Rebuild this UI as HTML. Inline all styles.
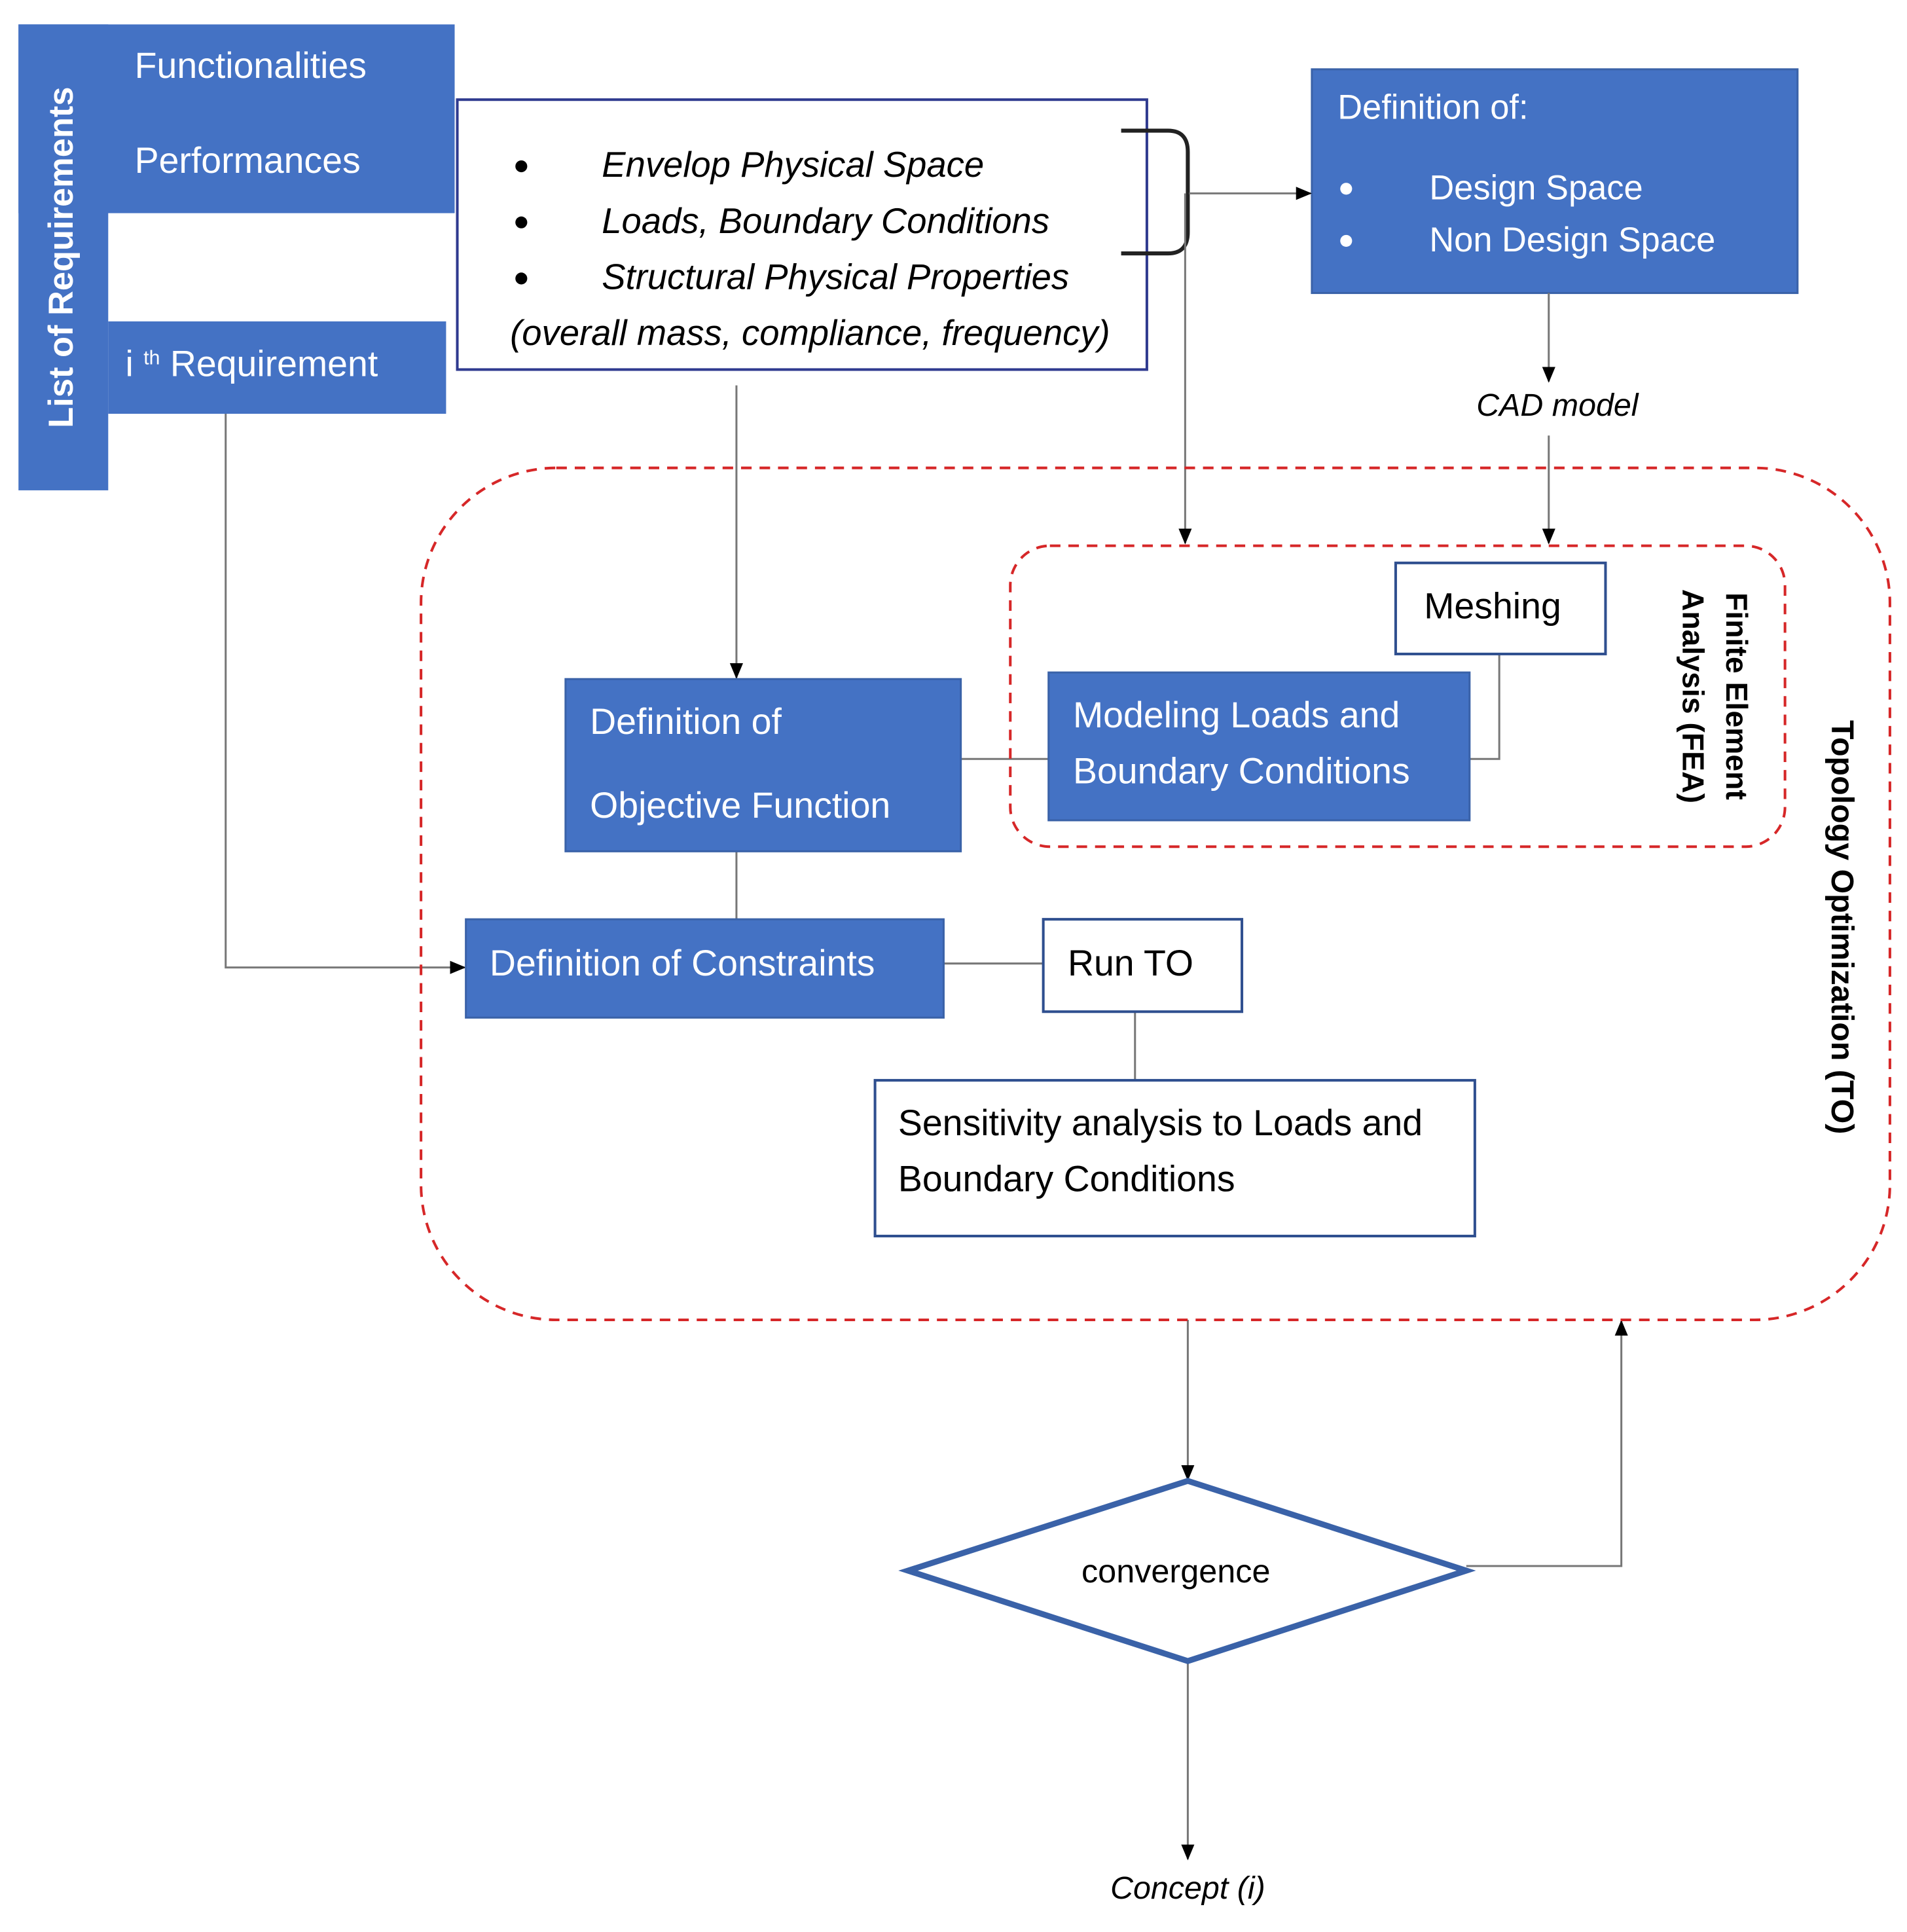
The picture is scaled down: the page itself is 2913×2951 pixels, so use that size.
<!DOCTYPE html>
<html><head><meta charset="utf-8"><style>body{margin:0;background:#fff}svg{display:block}</style></head><body>
<svg width="2913" height="2951" viewBox="0 0 2913 2951" xmlns="http://www.w3.org/2000/svg" font-family="Liberation Sans, sans-serif">
<defs>
<marker id="b" markerWidth="24" markerHeight="24" refX="22" refY="12" orient="auto" markerUnits="userSpaceOnUse" viewBox="0 0 24 24"><path d="M0,2 L24,12 L0,22z" fill="#000"/></marker></defs>
<g transform="scale(1.008)">
<rect x="28" y="37" width="136" height="706" fill="#4472C4"/>
<rect x="28" y="37" width="661" height="286" fill="#4472C4"/>
<rect x="164" y="487" width="512" height="140" fill="#4472C4"/>
<text transform="translate(110,390) rotate(-90)" text-anchor="middle" fill="#fff" font-size="52" font-weight="bold">List of Requirements</text>
<text x="204" y="118" fill="#fff" font-size="55">Functionalities</text>
<text x="204" y="262" fill="#fff" font-size="55">Performances</text>
<text x="190" y="570" fill="#fff" font-size="55">i <tspan font-size="30" dy="-18">th</tspan><tspan dy="18"> Requirement</tspan></text>
<rect x="693" y="151" width="1045" height="409" fill="#fff" stroke="#2F3A8F" stroke-width="4"/>
<g font-size="54" font-style="italic" fill="#000">
<circle cx="790" cy="252" r="9"/><circle cx="790" cy="337" r="9"/><circle cx="790" cy="422" r="9"/>
<text x="912" y="268">Envelop Physical Space</text>
<text x="912" y="353">Loads, Boundary Conditions</text>
<text x="912" y="438">Structural Physical Properties</text>
<text x="773" y="523">(overall mass, compliance, frequency)</text>
</g>
<path d="M1699,198 H1770 Q1800,198 1800,230 V352 Q1800,384 1770,384 H1699" fill="none" stroke="#222" stroke-width="6"/>
<rect x="1988" y="105" width="736" height="339" fill="#4472C4" stroke="#3A62A8" stroke-width="3"/>
<text x="2027" y="180" fill="#fff" font-size="52">Definition of:</text>
<circle cx="2040" cy="286" r="9" fill="#fff"/><circle cx="2040" cy="365" r="9" fill="#fff"/>
<text x="2166" y="302" fill="#fff" font-size="52">Design Space</text>
<text x="2166" y="381" fill="#fff" font-size="52">Non Design Space</text>
<g stroke="#777" stroke-width="3" fill="none">
<line x1="1802" y1="293" x2="1986" y2="293" marker-end="url(#b)"/>
<line x1="1796" y1="293" x2="1796" y2="823" marker-end="url(#b)"/>
<line x1="2347" y1="444" x2="2347" y2="578" marker-end="url(#b)"/>
<line x1="2347" y1="660" x2="2347" y2="823" marker-end="url(#b)"/>
<line x1="1116" y1="584" x2="1116" y2="1027" marker-end="url(#b)"/>
<line x1="1456" y1="1150" x2="1589" y2="1150"/>
<polyline points="2272,991 2272,1150 2227,1150"/>
<line x1="1116" y1="1290" x2="1116" y2="1393"/>
<polyline points="342,627 342,1466 704,1466" marker-end="url(#b)"/>
<line x1="1430" y1="1460" x2="1581" y2="1460"/>
<line x1="1720" y1="1533" x2="1720" y2="1637"/>
<line x1="1800" y1="2000" x2="1800" y2="2242" marker-end="url(#b)"/>
<polyline points="2222,2373 2457,2373 2457,2002" marker-end="url(#b)"/>
<line x1="1800" y1="2517" x2="1800" y2="2817" marker-end="url(#b)"/>
</g>
<text x="2360" y="630" text-anchor="middle" font-size="48" font-style="italic">CAD model</text>
<rect x="638" y="709" width="2226" height="1291" rx="205" fill="none" stroke="#D62728" stroke-width="4" stroke-dasharray="16,12"/>
<rect x="1531" y="827" width="1174" height="456" rx="60" fill="none" stroke="#D62728" stroke-width="4" stroke-dasharray="16,12"/>
<rect x="2115" y="853" width="318" height="138" fill="#fff" stroke="#2F4F8F" stroke-width="4"/>
<text x="2158" y="937" font-size="55">Meshing</text>
<rect x="1589" y="1019" width="638" height="224" fill="#4472C4" stroke="#3A62A8" stroke-width="3"/>
<text x="1626" y="1102" fill="#fff" font-size="55">Modeling Loads and</text>
<text x="1626" y="1187" fill="#fff" font-size="55">Boundary Conditions</text>
<text transform="translate(2616,1055) rotate(90)" text-anchor="middle" font-size="46" font-weight="bold">Finite Element</text>
<text transform="translate(2550,1055) rotate(90)" text-anchor="middle" font-size="46" font-weight="bold">Analysis (FEA)</text>
<text transform="translate(2776,1405) rotate(90)" text-anchor="middle" font-size="48" font-weight="bold">Topology Optimization (TO)</text>
<rect x="857" y="1029" width="599" height="261" fill="#4472C4" stroke="#3A62A8" stroke-width="3"/>
<text x="894" y="1112" fill="#fff" font-size="55">Definition of</text>
<text x="894" y="1239" fill="#fff" font-size="55">Objective Function</text>
<rect x="706" y="1393" width="724" height="149" fill="#4472C4" stroke="#3A62A8" stroke-width="3"/>
<text x="742" y="1478" fill="#fff" font-size="55">Definition of Constraints</text>
<rect x="1581" y="1393" width="301" height="140" fill="#fff" stroke="#2F4F8F" stroke-width="4"/>
<text x="1618" y="1478" font-size="55">Run TO</text>
<rect x="1326" y="1637" width="909" height="236" fill="#fff" stroke="#2F4F8F" stroke-width="4"/>
<text x="1361" y="1720" font-size="55">Sensitivity analysis to Loads and</text>
<text x="1361" y="1805" font-size="55">Boundary Conditions</text>
<polygon points="1376,2380 1800,2244 2222,2380 1800,2517" fill="#fff" stroke="#3A62A8" stroke-width="9"/>
<text x="1782" y="2398" text-anchor="middle" font-size="50">convergence</text>
<text x="1800" y="2877" text-anchor="middle" font-size="48" font-style="italic">Concept (i)</text>
</g>
</svg>
</body></html>
